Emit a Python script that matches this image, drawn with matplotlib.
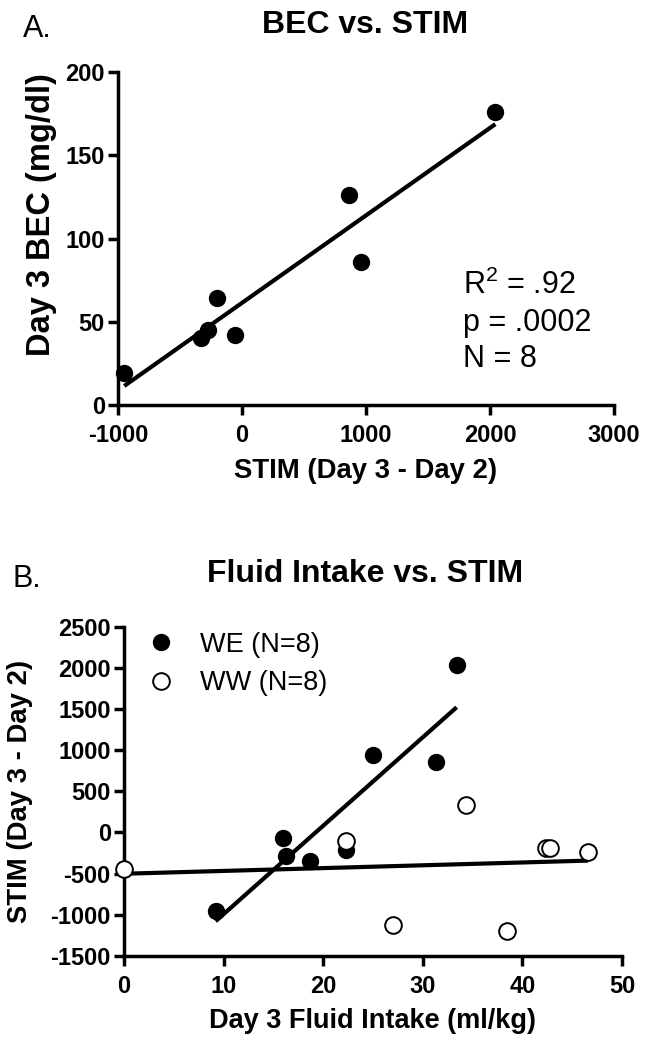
import numpy as np
import matplotlib
matplotlib.use("Agg")
import matplotlib.pyplot as plt

plt.rcParams['font.family'] = ['Liberation Sans', 'DejaVu Sans']
plt.rcParams['mathtext.fontset'] = 'custom'
plt.rcParams['mathtext.rm'] = 'Liberation Sans'
plt.rcParams['axes.unicode_minus'] = False

# ---- Panel A data: STIM vs BEC ----
stim_a = [-950, -333, -277, -200, -60, 863, 957, 2043]
bec_a = [19, 40, 45, 64, 42, 126, 86, 176]

# ---- Panel B data: fluid intake vs STIM ----
we_intake = [9.2, 16.0, 16.3, 18.7, 22.3, 25.0, 31.3, 33.4]
we_stim = [-955, -65, -283, -343, -214, 937, 857, 2028]
ww_intake = [0.0, 22.3, 27.0, 34.3, 38.5, 42.35, 42.8, 46.6]
ww_stim = [-444, -105, -1123, 339, -1196, -186, -194, -234]

a_xticks = [-1000, 0, 1000, 2000, 3000]
a_yticks = [0, 50, 100, 150, 200]
b_xticks = [0, 10, 20, 30, 40, 50]
b_yticks = [-1500, -1000, -500, 0, 500, 1000, 1500, 2000, 2500]

W, H = 649, 1045
fig = plt.figure(figsize=(W / 100, H / 100), dpi=100)

def px_axes(l, t, r, b):
    return fig.add_axes([l / W, 1 - b / H, (r - l) / W, (b - t) / H])

LW = 2.5
TICK_FS = 17

def style(ax):
    for s in ['top', 'right']:
        ax.spines[s].set_visible(False)
    for s in ['left', 'bottom']:
        ax.spines[s].set_linewidth(LW)
    ax.tick_params(direction='out', length=7.5, width=LW, labelsize=TICK_FS, pad=2)
    ax.tick_params(axis='x', pad=6)
    for lab in ax.get_xticklabels() + ax.get_yticklabels():
        lab.set_fontweight('bold')

def fit_line(ax, x, y):
    x = np.asarray(x, float)
    y = np.asarray(y, float)
    k, b = np.polyfit(x, y, 1)
    xs = np.array([x.min(), x.max()])
    ax.plot(xs, k * xs + b, color='black', lw=3.0, solid_capstyle='butt', clip_on=False)

# ---------------- Panel A ----------------
ax1 = px_axes(118, 72, 614, 405)
ax1.set_xlim(-1000, 3000)
ax1.set_ylim(0, 200)
ax1.set_xticks(a_xticks)
ax1.set_yticks(a_yticks)
style(ax1)
fit_line(ax1, stim_a, bec_a)
ax1.plot(stim_a, bec_a, 'o', color='black', ms=12.5, mew=0, clip_on=False, zorder=3)
ax1.set_xlabel('STIM (Day 3 - Day 2)', fontsize=19.8, fontweight='bold')
ax1.set_ylabel('Day 3 BEC (mg/dl)', fontsize=23.5, fontweight='bold')
ax1.xaxis.set_label_coords(0.5, (405 - 458) / 333)
ax1.yaxis.set_label_coords((57 - 118) / 496, (405 - 215) / 333)

fig.text(365 / W, 1 - 32.7 / H, 'BEC vs. STIM', fontsize=23, fontweight='bold',
         ha='center', va='baseline')
fig.text(23 / W, 1 - 37 / H, 'A.', fontsize=22, ha='left', va='baseline')

stat_fs = 22
fig.text(463 / W, 1 - 294 / H, r'R$^{\mathregular{2}}$ = .92', fontsize=stat_fs, ha='left', va='baseline')
fig.text(463 / W, 1 - 330.5 / H, 'p = .0002', fontsize=stat_fs, ha='left', va='baseline')
fig.text(463 / W, 1 - 367 / H, 'N = 8', fontsize=stat_fs, ha='left', va='baseline')

# ---------------- Panel B ----------------
ax2 = px_axes(124, 626.5, 622, 956)
ax2.set_xlim(0, 50)
ax2.set_ylim(-1500, 2500)
ax2.set_xticks(b_xticks)
ax2.set_yticks(b_yticks)
style(ax2)
fit_line(ax2, we_intake, we_stim)
fit_line(ax2, ww_intake, ww_stim)
ax2.plot(we_intake, we_stim, 'o', color='black', ms=12.5, mew=0, clip_on=False, zorder=3,
         label='WE (N=8)')
ax2.plot(ww_intake, ww_stim, 'o', mfc='white', mec='black', ms=12, mew=1.4, clip_on=False,
         zorder=3, label='WW (N=8)')
ax2.set_xlabel('Day 3 Fluid Intake (ml/kg)', fontsize=19.5, fontweight='bold')
ax2.set_ylabel('STIM (Day 3 - Day 2)', fontsize=19.8, fontweight='bold')
ax2.xaxis.set_label_coords(0.5, (956 - 1008) / 329.5)
ax2.yaxis.set_label_coords((33 - 124) / 498, 0.5)

leg_fs = 19.5
em = leg_fs * 100 / 72
leg = ax2.legend(loc='center left', bbox_to_anchor=(148 / W, 1 - 664 / H),
                 bbox_transform=fig.transFigure, frameon=False, fontsize=leg_fs,
                 handlelength=26 / em, handletextpad=26 / em, borderpad=0,
                 borderaxespad=0, labelspacing=0.45, numpoints=1)

fig.text(365 / W, 1 - 582.5 / H, 'Fluid Intake vs. STIM', fontsize=23, fontweight='bold',
         ha='center', va='baseline')
fig.text(12 / W, 1 - 587 / H, 'B.', fontsize=22, ha='left', va='baseline')

fig.savefig('out.png', dpi=100, facecolor='white')
